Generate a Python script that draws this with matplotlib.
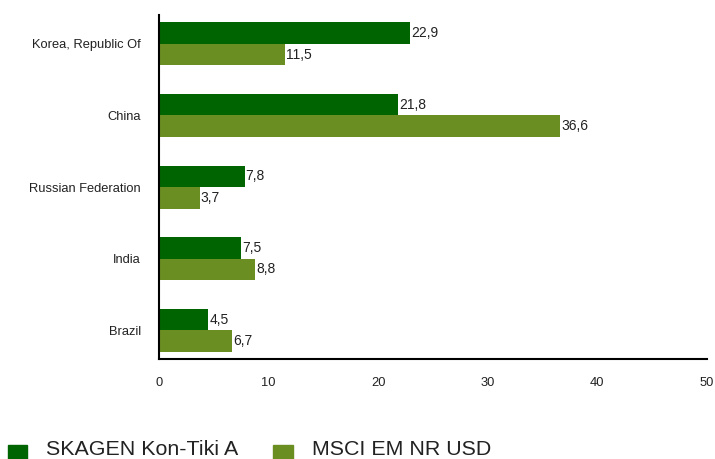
import matplotlib
matplotlib.use("Agg")
import matplotlib.pyplot as plt
import numpy as np

plt.rcParams['font.family'] = ['Liberation Sans', 'DejaVu Sans']

countries = ["Korea, Republic Of", "China", "Russian Federation", "India", "Brazil"]
kontiki = [22.9, 21.8, 7.8, 7.5, 4.5]
msci = [11.5, 36.6, 3.7, 8.8, 6.7]
series_names = ["SKAGEN Kon-Tiki A", "MSCI EM NR USD"]
colors = ["#006400", "#6b8e23"]
txt = "#222222"

fig = plt.figure(figsize=(7.15, 4.59), dpi=100)
ax = fig.add_axes([0.2224, 0.218, 0.7664, 0.749])

y = np.arange(len(countries))
h = 0.3
for vals, off, c in [(kontiki, -h / 2, colors[0]), (msci, h / 2, colors[1])]:
    ax.barh(y + off, vals, height=h, color=c)
    for yi, v in zip(y, vals):
        ax.text(v + 0.1, yi + off, f"{v:.1f}".replace(".", ","),
                va="center", ha="left", fontsize=10, color=txt)

ax.set_xlim(0, 50)
ax.set_ylim(4.4, -0.4)
ax.set_yticks(y)
ax.set_yticklabels(countries, fontsize=9.3, color=txt)
ax.set_xticks(range(0, 51, 10))
ax.tick_params(axis="x", length=0, pad=13, labelsize=9.3, labelcolor=txt)
ax.tick_params(axis="y", length=0, pad=13)
for s in ["top", "right"]:
    ax.spines[s].set_visible(False)
ax.spines["left"].set_linewidth(1.5)
ax.spines["bottom"].set_linewidth(1.5)

# legend drawn along the bottom edge
fig.patches.append(plt.Rectangle((8 / 715, 0), 19 / 715, 14 / 459,
                                 transform=fig.transFigure, color=colors[0]))
fig.text(46 / 715, 4 / 459, series_names[0], fontsize=15.4, va="baseline", color=txt)
fig.patches.append(plt.Rectangle((273 / 715, 0), 20 / 715, 14 / 459,
                                 transform=fig.transFigure, color=colors[1]))
fig.text(312 / 715, 4 / 459, series_names[1], fontsize=15.4, va="baseline", color=txt)

fig.savefig("out.png", dpi=100)
